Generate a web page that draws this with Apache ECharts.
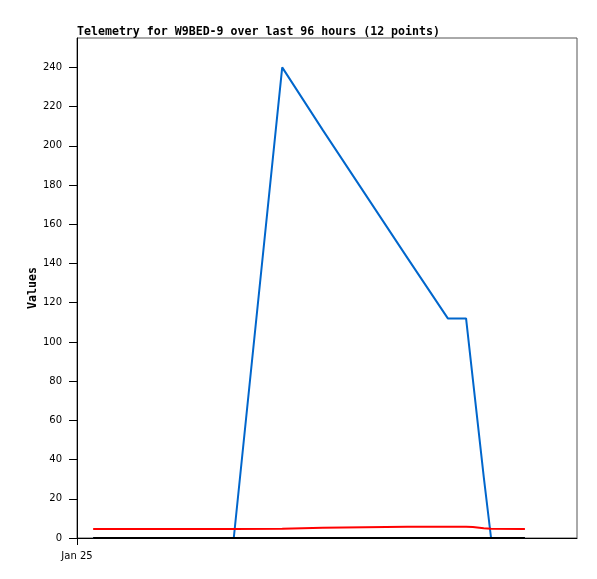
<!DOCTYPE html>
<html>
<head>
<meta charset="utf-8">
<script src="https://cdn.jsdelivr.net/npm/echarts@6/dist/echarts.min.js"></script>
<style>
  html, body { margin: 0; padding: 0; background: #fff; }
  #chart { width: 597px; height: 579px; }
</style>
</head>
<body>
<div id="chart"></div>
<script>
// hours since Jan 25 00:00
const hours = [3.1, 16.5, 30.1, 39.4, 47.2, 63.4, 71.2, 74.7, 76.0, 78.1, 79.5, 86.0]
const blueValues = [0, 0, 0, 240, 208, 143, 112, 112, 81, 31, 0, 0]
const redValues = [4.6, 4.6, 4.6, 4.7, 5.2, 5.7, 5.8, 5.8, 5.6, 5.0, 4.7, 4.6]
const blackValues = [0, 0, 0, 0, 0, 0, 0, 0, 0, 0, 0, 0]
const yTicks = [0, 20, 40, 60, 80, 100, 120, 140, 160, 180, 200, 220, 240]
const xTicks = [0]
const xTickLabels = ['Jan 25']

const pairs = (vals) => hours.map((h, i) => [h, vals[i]])

const chart = echarts.init(document.getElementById('chart'))

const option = {
  animation: false,
  title: {
    text: 'Telemetry for W9BED-9 over last 96 hours (12 points)',
    left: 77,
    top: 26,
    padding: 0,
    textStyle: {
      fontFamily: 'DejaVu Sans Mono',
      fontWeight: 'bold',
      fontSize: 11.6,
      color: '#000'
    }
  },
  grid: {
    left: 77,
    right: 20,
    top: 38,
    bottom: 41,
    show: true,
    borderColor: '#555',
    borderWidth: 1
  },
  xAxis: {
    type: 'value',
    min: 0,
    max: 96,
    splitLine: { show: false },
    axisLine: { lineStyle: { color: '#000', width: 1 } },
    axisTick: {
      customValues: xTicks,
      length: 7,
      lineStyle: { color: '#000' }
    },
    axisLabel: {
      customValues: xTicks,
      formatter: (v) => xTickLabels[xTicks.indexOf(v)] || '',
      margin: 13,
      fontFamily: 'DejaVu Sans',
      fontSize: 10,
      color: '#000'
    }
  },
  yAxis: {
    type: 'value',
    min: 0,
    max: 255,
    name: 'Values',
    nameLocation: 'middle',
    nameGap: 38,
    nameMoveOverlap: false,
    nameTextStyle: {
      fontFamily: 'DejaVu Sans Mono',
      fontWeight: 'bold',
      fontSize: 11.6,
      color: '#000'
    },
    splitLine: { show: false },
    axisLine: { show: true, lineStyle: { color: '#000', width: 1 } },
    axisTick: {
      customValues: yTicks,
      length: 8,
      lineStyle: { color: '#000' }
    },
    axisLabel: {
      customValues: yTicks,
      margin: 15,
      fontFamily: 'DejaVu Sans',
      fontSize: 10,
      color: '#000'
    }
  },
  series: [
    {
      type: 'line',
      data: pairs(blueValues),
      showSymbol: false,
      lineStyle: { color: '#0066cc', width: 2 }
    },
    {
      type: 'line',
      data: pairs(redValues),
      showSymbol: false,
      lineStyle: { color: '#ff0000', width: 2 }
    },
    {
      type: 'line',
      data: pairs(blackValues),
      showSymbol: false,
      lineStyle: { color: '#000000', width: 2 }
    }
  ]
}

chart.setOption(option)
</script>
</body>
</html>
